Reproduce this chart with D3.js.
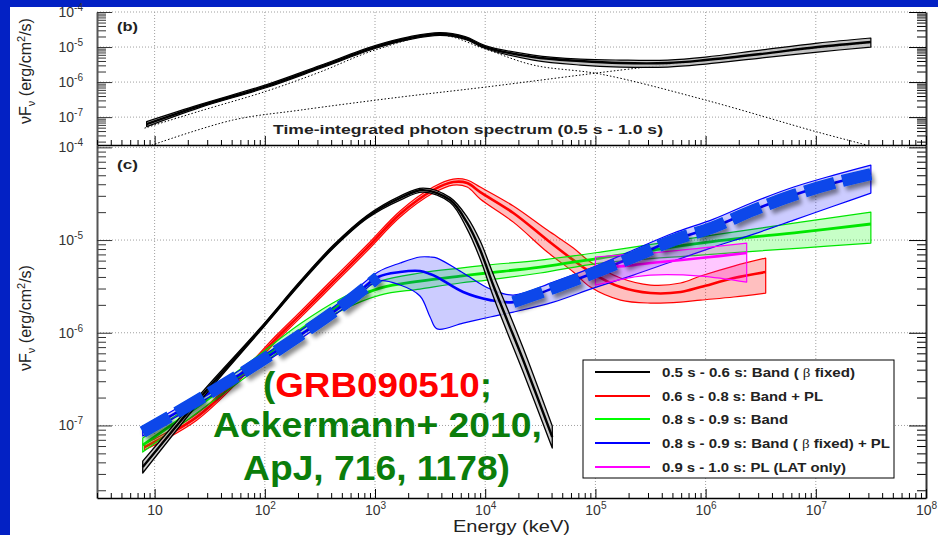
<!DOCTYPE html>
<html>
<head>
<meta charset="utf-8">
<script src="https://cdn.jsdelivr.net/npm/d3@7"></script>
<style>
  html, body { margin: 0; padding: 0; background: #fff; }
  svg { display: block; font-family: "Liberation Sans", Arial, Helvetica, sans-serif; }
</style>
</head>
<body>
<svg id="chart" width="938" height="535"></svg>
<script>
// ---------- axis ranges and tick labels ----------
const xDomain  = [3, 1e8];                 // Energy (keV)
const yDomainB = [1.6e-8, 1e-4];           // panel (b) nuFnu
const yDomainC = [1.65e-8, 1.06e-4];       // panel (c) nuFnu
const xMajor   = [10, 1e2, 1e3, 1e4, 1e5, 1e6, 1e7, 1e8];
const xGrid    = [10, 1e2, 1e3, 1e4, 1e5, 1e6, 1e7];
const yMajor   = [1e-7, 1e-6, 1e-5, 1e-4];

// ---------- panel (b): time-integrated spectrum 0.5 s - 1.0 s ----------
const intE   = [8.46, 25.6, 104, 316, 1000, 2080, 3900, 6580, 1e4, 2.73e4, 7.31e4, 1.69e5, 4.52e5, 1e6, 3.16e6, 1.04e7, 3.16e7];
const intMid = [6.31e-8, 2.06e-7, 7.69e-7, 2.68e-6, 1.0e-5, 1.81e-5, 2.35e-5, 1.81e-5, 1.0e-5, 5.18e-6, 3.98e-6, 3.49e-6, 3.49e-6, 4.25e-6, 6.31e-6, 1.0e-5, 1.39e-5];
const intHi  = [7.44e-8, 2.27e-7, 8.46e-7, 2.95e-6, 1.10e-5, 1.99e-5, 2.59e-5, 1.99e-5, 1.10e-5, 5.91e-6, 4.54e-6, 4.25e-6, 4.25e-6, 5.18e-6, 8.21e-6, 1.30e-5, 1.81e-5];
const intLo  = [5.35e-8, 1.87e-7, 6.99e-7, 2.44e-6, 9.10e-6, 1.65e-5, 2.14e-5, 1.65e-5, 9.10e-6, 4.25e-6, 3.06e-6, 2.68e-6, 2.68e-6, 3.27e-6, 4.85e-6, 7.19e-6, 1.0e-5];
// components of the time-integrated fit
const intPlE   = [9.4, 51, 208, 1690, 1e4, 1.69e5, 9.0e5, 7.3e6, 3.16e7];
const intPlF   = [1.58e-8, 8.21e-8, 1.58e-7, 3.73e-7, 7.19e-7, 2.20e-6, 3.98e-6, 8.21e-6, 1.30e-5];
const intBandE = [8.1, 25.6, 104, 316, 1000, 3900, 1e4, 2.73e4, 1.11e5, 1e6, 1.04e7, 2.94e7];
const intBandF = [4.85e-8, 1.48e-7, 5.53e-7, 1.93e-6, 8.21e-6, 2.20e-5, 8.77e-6, 3.06e-6, 1.69e-6, 3.06e-7, 3.73e-8, 1.58e-8];

// ---------- panel (c): time-resolved fits ----------
// 0.5 s - 0.6 s: Band (beta fixed)
const blackE   = [7.8, 29.7, 90, 208, 415, 846, 1690, 2730, 4810, 6860, 9010, 11800, 15800, 22100, 40600];
const blackMid = [3.56e-8, 2.41e-7, 1.07e-6, 3.44e-6, 8.40e-6, 1.77e-5, 2.84e-5, 3.46e-5, 2.70e-5, 1.53e-5, 7.80e-6, 3.27e-6, 1.37e-6, 5.08e-7, 7.50e-8];
const blackHi  = [4.13e-8, 2.60e-7, 1.11e-6, 3.57e-6, 8.72e-6, 1.84e-5, 2.98e-5, 3.64e-5, 2.87e-5, 1.77e-5, 9.75e-6, 4.30e-6, 1.85e-6, 6.84e-7, 9.85e-8];
const blackLo  = [3.07e-8, 2.24e-7, 1.03e-6, 3.31e-6, 8.10e-6, 1.71e-5, 2.70e-5, 3.29e-5, 2.54e-5, 1.31e-5, 6.24e-6, 2.49e-6, 1.02e-6, 3.77e-7, 5.70e-8];

// 0.6 s - 0.8 s: Band + PL
const redE   = [8.1, 24.1, 59.3, 128, 208, 415, 846, 1690, 3370, 5120, 6860, 9010, 1.8e4, 3.66e4, 6.31e4, 9.01e4, 1.69e5, 3.16e5, 5.93e5, 9.0e5, 1.8e6, 3.51e6];
const redMid = [5.85e-8, 1.23e-7, 3.33e-7, 8.77e-7, 1.55e-6, 3.52e-6, 8.20e-6, 1.91e-5, 3.46e-5, 4.22e-5, 4.12e-5, 3.29e-5, 1.96e-5, 1.0e-5, 6.08e-6, 4.52e-6, 3.11e-6, 2.68e-6, 2.75e-6, 3.11e-6, 3.89e-6, 4.52e-6];
const redHi  = [6.30e-8, 1.33e-7, 3.58e-7, 9.45e-7, 1.67e-6, 3.80e-6, 8.85e-6, 2.06e-5, 3.73e-5, 4.55e-5, 4.44e-5, 3.73e-5, 2.33e-5, 1.28e-5, 8.20e-6, 5.79e-6, 3.89e-6, 3.27e-6, 3.44e-6, 4.09e-6, 5.24e-6, 6.39e-6];
const redLo  = [5.43e-8, 1.14e-7, 3.09e-7, 8.14e-7, 1.44e-6, 3.26e-6, 7.60e-6, 1.77e-5, 3.21e-5, 3.92e-5, 3.73e-5, 2.77e-5, 1.56e-5, 7.42e-6, 4.52e-6, 3.11e-6, 2.25e-6, 2.09e-6, 2.14e-6, 2.25e-6, 2.43e-6, 2.68e-6];

// 0.8 s - 0.9 s: Band
const greenE   = [7.8, 25.6, 73, 208, 481, 1110, 2560, 5930, 1.04e4, 3.16e4, 1.11e5, 9.0e5, 7.3e6, 3.16e7];
const greenMid = [6.14e-8, 1.66e-7, 4.16e-7, 1.07e-6, 1.99e-6, 3.03e-6, 3.61e-6, 4.09e-6, 4.41e-6, 5.11e-6, 6.39e-6, 9.28e-6, 1.22e-5, 1.49e-5];
const greenHi  = [7.31e-8, 1.93e-7, 4.83e-7, 1.24e-6, 2.31e-6, 3.61e-6, 4.41e-6, 4.99e-6, 5.37e-6, 6.08e-6, 7.42e-6, 1.08e-5, 1.56e-5, 2.00e-5];
const greenLo  = [5.16e-8, 1.43e-7, 3.58e-7, 9.21e-7, 1.71e-6, 2.55e-6, 2.96e-6, 3.44e-6, 3.70e-6, 4.41e-6, 5.65e-6, 6.89e-6, 8.20e-6, 9.28e-6];

// 0.8 s - 0.9 s: Band (beta fixed) + PL
const blueE   = [7.8, 27.3, 123, 556, 1065, 1690, 2560, 3160, 3660, 6310, 1.11e4, 1.8e4, 4.15e4, 9.59e4, 2.21e5, 5.12e5, 1.18e6, 2.73e6, 6.31e6, 1.46e7, 3.16e7];
const blueMid = [8.49e-8, 2.02e-7, 6.19e-7, 2.14e-6, 3.99e-6, 4.52e-6, 4.63e-6, 4.30e-6, 3.99e-6, 2.75e-6, 2.25e-6, 2.14e-6, 3.03e-6, 4.41e-6, 6.56e-6, 1.0e-5, 1.38e-5, 2.11e-5, 3.06e-5, 4.12e-5, 5.15e-5];
const blueHi  = [9.37e-8, 2.24e-7, 6.84e-7, 2.43e-6, 4.52e-6, 5.65e-6, 6.56e-6, 6.56e-6, 6.39e-6, 4.41e-6, 2.96e-6, 2.55e-6, 3.52e-6, 5.11e-6, 7.80e-6, 1.19e-5, 1.68e-5, 2.57e-5, 3.73e-5, 5.02e-5, 6.44e-5];
const blueLo  = [7.69e-8, 1.83e-7, 5.61e-7, 1.94e-6, 3.61e-6, 3.27e-6, 2.49e-6, 1.48e-6, 1.10e-6, 1.27e-6, 1.48e-6, 1.67e-6, 2.14e-6, 3.03e-6, 4.19e-6, 5.94e-6, 8.40e-6, 1.16e-5, 1.64e-5, 2.33e-5, 3.21e-5];

// 0.9 s - 1.0 s: PL (LAT only)
const magE   = [1e5, 2.21e5, 3.16e5, 9.0e5, 2.36e6];
const magMid = [4.99e-6, 5.37e-6, 5.65e-6, 6.39e-6, 7.24e-6];
const magHi  = [6.56e-6, 7.06e-6, 7.24e-6, 8.20e-6, 9.28e-6];
const magLo  = [3.27e-6, 3.99e-6, 4.19e-6, 4.09e-6, 3.52e-6];

const legendLabels = [
  ["0.5 s - 0.6 s: Band ( ", "β", " fixed)"],
  ["0.6 s - 0.8 s: Band + PL"],
  ["0.8 s - 0.9 s: Band"],
  ["0.8 s - 0.9 s: Band ( ", "β", " fixed) + PL"],
  ["0.9 s - 1.0 s: PL (LAT only)"]
];
const legendColors = ["#000000", "#ff0000", "#00ff00", "#0000ff", "#ff00ff"];

// ---------- setup ----------
const W = 938, H = 535;
const svg = d3.select("#chart");

svg.append("rect").attr("width", W).attr("height", H).attr("fill", "#0321c4");
svg.append("rect").attr("x", 10).attr("y", 7).attr("width", W - 10).attr("height", H - 7).attr("fill", "#fff");

const left = 97, right = 926;
const panB = { top: 12, bottom: 145 };
const panC = { top: 145, bottom: 498 };

const x  = d3.scaleLog().domain(xDomain).range([left, right]);
const yB = d3.scaleLog().domain(yDomainB).range([panB.bottom, panB.top]);
const yC = d3.scaleLog().domain(yDomainC).range([panC.bottom, panC.top]);

function minorTicks(domain) {
  const out = [];
  const lo = Math.floor(Math.log10(domain[0])), hi = Math.ceil(Math.log10(domain[1]));
  for (let e = lo; e < hi; e++) {
    for (let k = 2; k <= 9; k++) {
      const v = k * Math.pow(10, e);
      if (v >= domain[0] && v <= domain[1]) out.push(v);
    }
  }
  return out;
}

const defs = svg.append("defs");
defs.append("clipPath").attr("id", "clipB").append("rect")
  .attr("x", left).attr("y", panB.top).attr("width", right - left).attr("height", panB.bottom - panB.top);
defs.append("clipPath").attr("id", "clipC").append("rect")
  .attr("x", left).attr("y", panC.top).attr("width", right - left).attr("height", panC.bottom - panC.top);
const shadow = defs.append("filter").attr("id", "shadow")
  .attr("x", "-10%").attr("y", "-10%").attr("width", "130%").attr("height", "130%");
shadow.append("feDropShadow").attr("dx", 3).attr("dy", 4).attr("stdDeviation", 2.2)
  .attr("flood-color", "#000").attr("flood-opacity", 0.45);

// ---------- grids ----------
function grid(pan, y) {
  const g = svg.append("g").attr("stroke", "#a0a0a0").attr("stroke-width", 1).attr("stroke-dasharray", "1,2");
  g.selectAll("line.v").data(xGrid).join("line").attr("class", "v")
    .attr("x1", d => x(d)).attr("x2", d => x(d)).attr("y1", pan.top).attr("y2", pan.bottom);
  g.selectAll("line.h").data(yMajor).join("line").attr("class", "h")
    .attr("x1", left).attr("x2", right).attr("y1", d => y(d)).attr("y2", d => y(d));
}
grid(panB, yB);
grid(panC, yC);

// ---------- helpers ----------
const curve = d3.curveCatmullRom.alpha(0.5);
function zip(E, F) { return E.map((e, i) => [e, F[i]]); }
function lineGen(y) { return d3.line().x(d => x(d[0])).y(d => y(d[1])).curve(curve); }
function areaGen(y) {
  return d3.area().x(d => x(d[0])).y0(d => y(d[1])).y1(d => y(d[2])).curve(curve);
}
function band(g, y, E, lo, hi, mid, o) {
  const rows = E.map((e, i) => [e, lo[i], hi[i]]);
  g.append("path").attr("d", areaGen(y)(rows))
    .attr("fill", o.fill).attr("fill-opacity", o.fillOpacity)
    .attr("stroke", o.color).attr("stroke-width", o.edge).attr("stroke-linejoin", "round");
  g.append("path").attr("d", lineGen(y)(zip(E, mid)))
    .attr("fill", "none").attr("stroke", o.color).attr("stroke-width", o.mid);
}

// ---------- panel (b) ----------
const gB = svg.append("g").attr("clip-path", "url(#clipB)");
gB.append("path").attr("d", lineGen(yB)(zip(intPlE, intPlF)))
  .attr("fill", "none").attr("stroke", "#000").attr("stroke-width", 1).attr("stroke-dasharray", "1.5,2");
gB.append("path").attr("d", lineGen(yB)(zip(intBandE, intBandF)))
  .attr("fill", "none").attr("stroke", "#000").attr("stroke-width", 1).attr("stroke-dasharray", "1.5,2");
band(gB, yB, intE, intLo, intHi, intMid, { fill: "#bdbdbd", fillOpacity: 0.9, color: "#000", edge: 1.2, mid: 2.4 });

// ---------- panel (c) ----------
const gC = svg.append("g").attr("clip-path", "url(#clipC)");
band(gC, yC, redE, redLo, redHi, redMid, { fill: "#ff0000", fillOpacity: 0.25, color: "#ff0000", edge: 1.2, mid: 2.6 });
band(gC, yC, greenE, greenLo, greenHi, greenMid, { fill: "#00ff00", fillOpacity: 0.22, color: "#00e600", edge: 1.2, mid: 2.8 });
band(gC, yC, blueE, blueLo, blueHi, blueMid, { fill: "#0000ff", fillOpacity: 0.2, color: "#0000ff", edge: 1.2, mid: 2.6 });
band(gC, yC, magE, magLo, magHi, magMid, { fill: "#ff00ff", fillOpacity: 0.22, color: "#ff00ff", edge: 1.2, mid: 2.6 });
band(gC, yC, blackE, blackLo, blackHi, blackMid, { fill: "#c4c4c4", fillOpacity: 0.85, color: "#000", edge: 1.3, mid: 2.4 });

// thick dashed overlay of the Band (beta fixed) + PL fit, outside the hump
const blueRows = zip(blueE, blueMid);
const dashLow  = blueRows.filter(d => d[0] <= 1065);
const dashHigh = blueRows.filter(d => d[0] >= 1.8e4);
const gDash = gC.append("g").attr("filter", "url(#shadow)");
[dashLow, dashHigh].forEach(seg => {
  gDash.append("path").attr("d", lineGen(yC)(seg))
    .attr("fill", "none").attr("stroke", "#0747ea").attr("stroke-width", 12)
    .attr("stroke-dasharray", "31,8").attr("stroke-linecap", "butt");
});

// ---------- axes ----------
function powLabels(g, size) {
  g.selectAll(".tick text").each(function (d) {
    const e = Math.round(Math.log10(d));
    const t = d3.select(this).text(null)
      .attr("font-size", size).attr("fill", "#333")
      .attr("font-family", "'Liberation Sans', Arial, sans-serif");
    t.append("tspan").text("10");
    if (e !== 1) t.append("tspan").attr("dy", -6).attr("font-size", size * 0.72).text(e);
  });
}
function bottomAxis(yPos, withLabels) {
  svg.append("g").attr("transform", `translate(0,${yPos})`)
    .call(d3.axisBottom(x).tickValues(minorTicks(xDomain)).tickSize(-5).tickSizeOuter(0).tickFormat(""))
    .call(g => g.select(".domain").remove())
    .call(g => g.selectAll("line").attr("stroke", "#000"));
  const gm = svg.append("g").attr("transform", `translate(0,${yPos})`)
    .call(d3.axisBottom(x).tickValues(xMajor).tickSize(-9).tickSizeOuter(0).tickPadding(7))
    .call(g => g.select(".domain").attr("stroke", "#000").attr("stroke-width", 1.3))
    .call(g => g.selectAll("line").attr("stroke", "#000"));
  if (withLabels) powLabels(gm, 14); else gm.selectAll(".tick text").remove();
}
function sideAxes(y, domain) {
  svg.append("g").attr("transform", `translate(${left},0)`)
    .call(d3.axisLeft(y).tickValues(minorTicks(domain)).tickSize(-9).tickSizeOuter(0).tickFormat(""))
    .call(g => g.select(".domain").remove())
    .call(g => g.selectAll("line").attr("stroke", "#333"));
  const gl = svg.append("g").attr("transform", `translate(${left},0)`)
    .call(d3.axisLeft(y).tickValues(yMajor).tickSize(-15).tickSizeOuter(0).tickPadding(14))
    .call(g => g.select(".domain").attr("stroke", "#555").attr("stroke-width", 2))
    .call(g => g.selectAll("line").attr("stroke", "#333"));
  powLabels(gl, 14);
  svg.append("g").attr("transform", `translate(${right},0)`)
    .call(d3.axisRight(y).tickValues(minorTicks(domain)).tickSize(-9).tickSizeOuter(0).tickFormat(""))
    .call(g => g.select(".domain").remove())
    .call(g => g.selectAll("line").attr("stroke", "#000"));
  svg.append("g").attr("transform", `translate(${right},0)`)
    .call(d3.axisRight(y).tickValues(yMajor).tickSize(-17).tickSizeOuter(0).tickFormat(""))
    .call(g => g.select(".domain").attr("stroke", "#333").attr("stroke-width", 2))
    .call(g => g.selectAll("line").attr("stroke", "#000"));
}
sideAxes(yB, yDomainB);
sideAxes(yC, yDomainC);
bottomAxis(panB.bottom, false);
bottomAxis(panC.bottom, true);

// ---------- titles ----------
function yTitle(cy) {
  const t = svg.append("text").attr("transform", `translate(31,${cy}) rotate(-90)`)
    .attr("text-anchor", "middle").attr("font-size", 16).attr("fill", "#222");
  t.append("tspan").text("νF");
  t.append("tspan").attr("dy", 4).attr("font-size", 11).text("ν");
  t.append("tspan").attr("dy", -4).text(" (erg/cm");
  t.append("tspan").attr("dy", -6).attr("font-size", 11).text("2");
  t.append("tspan").attr("dy", 6).text("/s)");
}
yTitle(71);
yTitle(318);

svg.append("text").attr("x", 453).attr("y", 532).attr("font-size", 17).attr("fill", "#222")
  .attr("textLength", 117).attr("lengthAdjust", "spacingAndGlyphs").text("Energy (keV)");

svg.append("text").attr("x", 117).attr("y", 31).attr("font-size", 13).attr("font-weight", "bold")
  .attr("fill", "#222").attr("textLength", 21).attr("lengthAdjust", "spacingAndGlyphs").text("(b)");
svg.append("text").attr("x", 117).attr("y", 169).attr("font-size", 13).attr("font-weight", "bold")
  .attr("fill", "#222").attr("textLength", 21).attr("lengthAdjust", "spacingAndGlyphs").text("(c)");

svg.append("text").attr("x", 273).attr("y", 133.5).attr("font-size", 13).attr("font-weight", "bold")
  .attr("fill", "#222").attr("textLength", 390).attr("lengthAdjust", "spacingAndGlyphs")
  .text("Time-integrated photon spectrum (0.5 s - 1.0 s)");

// ---------- reference annotation ----------
const green = "#0b7d0b";
const a1 = svg.append("text").attr("x", 263).attr("y", 397).attr("font-size", 35).attr("font-weight", "bold")
  .attr("textLength", 229).attr("lengthAdjust", "spacingAndGlyphs");
a1.append("tspan").attr("fill", green).text("(");
a1.append("tspan").attr("fill", "#ff0000").text("GRB090510");
a1.append("tspan").attr("fill", green).text(";");
svg.append("text").attr("x", 213).attr("y", 437).attr("font-size", 35).attr("font-weight", "bold")
  .attr("fill", green).attr("textLength", 329).attr("lengthAdjust", "spacingAndGlyphs").text("Ackermann+ 2010,");
svg.append("text").attr("x", 243).attr("y", 480).attr("font-size", 35).attr("font-weight", "bold")
  .attr("fill", green).attr("textLength", 267).attr("lengthAdjust", "spacingAndGlyphs").text("ApJ, 716, 1178)");

// ---------- legend ----------
const legend = svg.append("g");
legend.append("rect").attr("x", 583).attr("y", 360).attr("width", 311).attr("height", 118)
  .attr("fill", "#fff").attr("stroke", "#000").attr("stroke-width", 1);
const rowY = [372, 396, 419, 443, 467];
const rowW = [193, 161, 126, 228, 184];
legendLabels.forEach((parts, i) => {
  legend.append("line").attr("x1", 595).attr("x2", 650).attr("y1", rowY[i]).attr("y2", rowY[i])
    .attr("stroke", legendColors[i]).attr("stroke-width", 2);
  const t = legend.append("text").attr("x", 662).attr("y", rowY[i] + 4.5)
    .attr("font-size", 12.5).attr("font-weight", "bold").attr("fill", "#222")
    .attr("textLength", rowW[i]).attr("lengthAdjust", "spacingAndGlyphs");
  parts.forEach(p => {
    const s = t.append("tspan").text(p);
    if (p === "β") s.attr("font-family", "'Liberation Serif', serif").attr("font-weight", "normal");
  });
});
</script>
</body>
</html>
